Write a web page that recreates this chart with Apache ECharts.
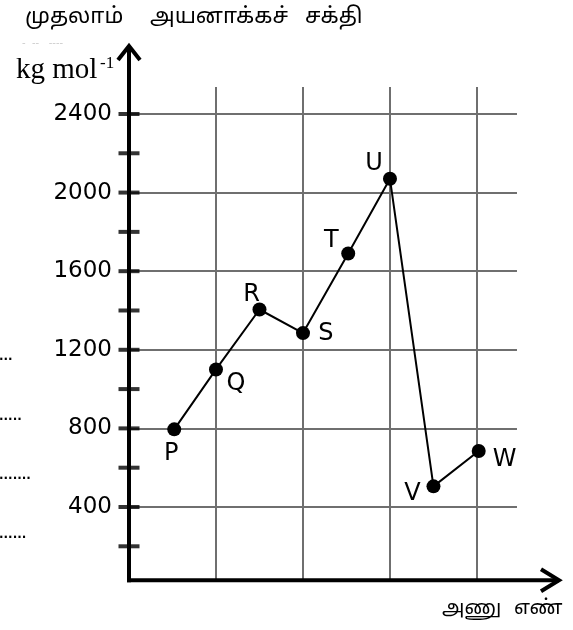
<!DOCTYPE html>
<html><head><meta charset="utf-8">
<script src="https://cdn.jsdelivr.net/npm/echarts@6/dist/echarts.min.js"></script>
<style>html,body{margin:0;padding:0;background:#fff}#c{width:573px;height:630px}</style>
</head><body><div id="c"></div>
<script>
// ---- data ----
const pointNames = ['P', 'Q', 'R', 'S', 'T', 'U', 'V', 'W'];
const atomicPos = [0.52, 1, 1.5, 2, 2.52, 3, 3.5, 4.02];
const ionizationEnergy = [795, 1100, 1405, 1285, 1690, 2070, 505, 685];
const yTickLabels = [400, 800, 1200, 1600, 2000, 2400];
const yTickMarks = [200, 400, 600, 800, 1000, 1200, 1400, 1600, 1800, 2000, 2200, 2400];
const gridYValues = [400, 800, 1200, 1600, 2000, 2400];
const gridXValues = [1, 2, 3, 4];
const titleWords = ['முதலாம்', 'அயனாக்கச்', 'சக்தி'];
const unitText = 'kg mol';
const unitSup = '-1';
const xTitleWords = ['அணு', 'எண்'];
const leftFragments = ['...', '.....', '.......', '......'];

// ---- layout / style (not data) ----
const Y_MAX = 2751, X_MAX = 4.966, AXIS_BASE = 27, GRID_TOP_VAL = 2537, HGRID_END = 4.46;
const labelOffsets = {P:[-3,24], Q:[20,14], R:[-8,-15], S:[23,1], T:[-17,-13], U:[-16,-15], V:[-21,7], W:[26,9]};
const titleLefts = [25, 150, 305];
const xTitleLefts = [442, 514];
const GRIDC = '#6f6f6f';
const TITLE_FONT = '22px "Noto Sans Tamil", "Noto Sans", sans-serif';
const XTITLE_FONT = '20px "Noto Sans Tamil", "Noto Sans", sans-serif';

const chart = echarts.init(document.getElementById('c'), null, {renderer: 'canvas'});

const lineData = pointNames.map((n, i) => ({
  name: n,
  value: [atomicPos[i], ionizationEnergy[i]],
  label: {offset: labelOffsets[n]}
}));

const gridLines = [];
gridYValues.forEach(v => gridLines.push([{coord: [0, v]}, {coord: [HGRID_END, v]}]));
gridXValues.forEach(v => gridLines.push([{coord: [v, AXIS_BASE]}, {coord: [v, GRID_TOP_VAL]}]));

const option = {
  animation: false,
  backgroundColor: '#fff',
  grid: {left: 129, right: 12, top: 45, bottom: 44.4},
  xAxis: {type: 'value', min: 0, max: X_MAX, axisLine: {show: false}, axisTick: {show: false},
          axisLabel: {show: false}, splitLine: {show: false}},
  yAxis: {type: 'value', min: 0, max: Y_MAX, interval: 400,
          axisLine: {show: false}, axisTick: {show: false}, splitLine: {show: false},
          axisLabel: {margin: 17, fontFamily: 'DejaVu Sans', fontSize: 23, color: '#000',
                      showMaxLabel: false,
                      formatter: v => (yTickLabels.indexOf(v) >= 0 ? String(v) : '')}},
  series: [
    {type: 'line', data: [], silent: true, z: 1,
     markLine: {silent: true, symbol: ['none', 'none'], animation: false,
                lineStyle: {color: GRIDC, width: 2, type: 'solid'}, label: {show: false},
                data: gridLines}},
    {type: 'scatter', z: 5, clip: false, silent: true,
     symbol: 'rect', symbolSize: [21, 4], itemStyle: {color: '#000'},
     data: yTickMarks.map(v => [0, v])},
    {type: 'line', z: 10, clip: false, data: lineData,
     symbol: 'circle', symbolSize: 14, showAllSymbol: true,
     lineStyle: {color: '#000', width: 2}, itemStyle: {color: '#000'},
     label: {show: true, position: 'inside', formatter: p => p.name, color: '#000',
             fontFamily: 'DejaVu Sans', fontSize: 24, align: 'center', verticalAlign: 'middle'}}
  ]
};
chart.setOption(option);

// axes and arrows drawn using the library's coordinate conversion
const o = chart.convertToPixel({gridIndex: 0}, [0, AXIS_BASE]);
const yt = chart.convertToPixel({gridIndex: 0}, [0, Y_MAX]);
const xt = chart.convertToPixel({gridIndex: 0}, [X_MAX, AXIS_BASE]);
const axisStyle = {stroke: '#000', lineWidth: 4, fill: null};
const graphics = [
  {type: 'line', z: 20, shape: {x1: o[0], y1: o[1] + 2, x2: yt[0], y2: yt[1] + 2}, style: axisStyle},
  {type: 'polyline', z: 20, shape: {points: [[yt[0] - 11, yt[1] + 15], [yt[0], yt[1] + 1], [yt[0] + 11, yt[1] + 15]]},
   style: {stroke: '#000', lineWidth: 4, fill: null, lineJoin: 'miter'}},
  {type: 'line', z: 20, shape: {x1: o[0] - 2, y1: o[1], x2: xt[0] - 2, y2: xt[1]}, style: axisStyle},
  {type: 'polyline', z: 20, shape: {points: [[xt[0] - 20, xt[1] - 11], [xt[0] - 2, xt[1]], [xt[0] - 20, xt[1] + 11]]},
   style: {stroke: '#000', lineWidth: 4, fill: null, lineJoin: 'miter'}},
  {type: 'text', left: 16, top: 56, style: {text: unitText, font: '29px "Liberation Serif", serif', fill: '#000'}},
  {type: 'text', left: 100, top: 55, style: {text: unitSup, font: '17px "Liberation Serif", serif', fill: '#000'}},
  {type: 'text', left: 22, top: 38, style: {text: '-  --   ----', font: '10px "DejaVu Sans"', fill: '#ccc'}}
];
titleWords.forEach((w, i) => graphics.push({type: 'text', left: titleLefts[i], top: 8,
  style: {text: w, font: TITLE_FONT, fill: '#000'}}));
xTitleWords.forEach((w, i) => graphics.push({type: 'text', left: xTitleLefts[i], top: 600,
  style: {text: w, font: XTITLE_FONT, fill: '#000'}}));
const fragY = [351, 411, 470, 529];
leftFragments.forEach((t, i) => graphics.push({type: 'text', left: -1, top: fragY[i],
  style: {text: t, font: 'bold 12px "DejaVu Sans"', fill: '#000'}}));
chart.setOption({graphic: graphics});
</script></body></html>
